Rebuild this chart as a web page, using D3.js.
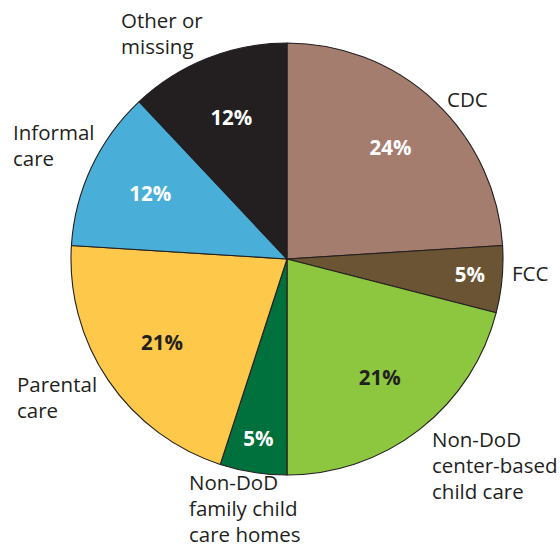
<!DOCTYPE html>
<html><head><meta charset="utf-8">
<script src="https://cdn.jsdelivr.net/npm/d3@7"></script>
<style>html,body{margin:0;padding:0;background:#fff}svg{display:block}</style>
</head><body>
<svg id="chart" width="560" height="548"></svg>
<script>
const categories = ["CDC","FCC","Non-DoD center-based child care","Non-DoD family child care homes","Parental care","Informal care","Other or missing"];
const values = [24,5,21,5,21,12,12];
const labelLines = [["CDC"],["FCC"],["Non-DoD","center-based","child care"],["Non-DoD","family child","care homes"],["Parental","care"],["Informal","care"],["Other or","missing"]];

const colors = ["#a57d6f","#6b5434","#8dc63f","#00703c","#fec94a","#4aafd8","#231f20"];
const pctColors = ["#fff","#fff","#231f20","#fff","#231f20","#fff","#fff"];
const labelPos = [[447,107],[512,281],[432,447],[189,490],[17,392],[13,140],[121,28]];

const cx = 287, cy = 259, R = 216;
const svg = d3.select("#chart");
const g = svg.append("g").attr("transform", `translate(${cx},${cy})`);
const data = categories.map((c,i)=>({c, v:values[i], i}));
const pie = d3.pie().value(d=>d.v).sort(null);
const arcs = pie(data);
const arc = d3.arc().innerRadius(0).outerRadius(R);

g.selectAll("path").data(arcs).enter().append("path")
  .attr("d", arc).attr("fill", d=>colors[d.data.i])
  .attr("stroke", "#231f20").attr("stroke-width", 1.1).attr("stroke-linejoin","round");

g.selectAll("text.pct").data(arcs).enter().append("text")
  .attr("class","pct")
  .attr("transform", d=>{
    const r = d.data.v < 10 ? R*0.85 : R*0.7;
    const c = d3.arc().innerRadius(r).outerRadius(r).centroid(d);
    return `translate(${c[0]},${c[1]})`;
  })
  .attr("text-anchor","middle").attr("dy","0.3em")
  .attr("font-family","'Open Sans', sans-serif").attr("font-weight","bold").attr("font-size",20.5)
  .attr("fill", d=>pctColors[d.data.i])
  .text(d=>d.data.v + "%");

const lg = svg.append("g");
labelLines.forEach((lines,i)=>{
  const t = lg.append("text").attr("x",labelPos[i][0]).attr("y",labelPos[i][1])
    .attr("font-family","'Open Sans', sans-serif").attr("font-size",20.5).attr("fill","#231f20");
  lines.forEach((ln,j)=>{
    t.append("tspan").attr("x",labelPos[i][0]).attr("dy", j===0?0:26).text(ln);
  });
});
</script>
</body></html>
